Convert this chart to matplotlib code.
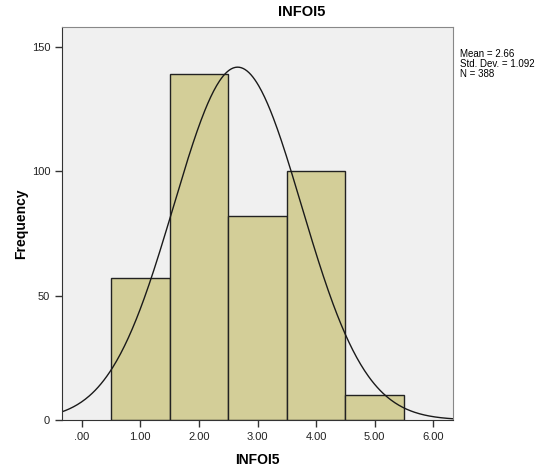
import matplotlib
matplotlib.use("Agg")
import matplotlib.pyplot as plt
import numpy as np

plt.rcParams['font.family'] = ['Liberation Sans', 'DejaVu Sans']

# histogram data
bin_centers = [1, 2, 3, 4, 5]
counts = [57, 139, 82, 100, 10]
mean = 2.66
std_dev = 1.092
n = 388
xticks = [0, 1, 2, 3, 4, 5, 6]
xtick_labels = [".00", "1.00", "2.00", "3.00", "4.00", "5.00", "6.00"]
yticks = [0, 50, 100, 150]

fig = plt.figure(figsize=(5.59, 4.70), dpi=100)
ax = fig.add_axes([0.1109, 0.1064, 0.699, 0.8368])
ax.set_facecolor('#f0f0f0')

ax.bar(bin_centers, counts, width=1.0, color='#d3ce98', edgecolor='#222222', linewidth=1.0)

# normal curve
x = np.linspace(-0.34, 6.33, 400)
y = n * 1.0 / (std_dev * np.sqrt(2 * np.pi)) * np.exp(-0.5 * ((x - mean) / std_dev) ** 2)
ax.plot(x, y, color='#1a1a1a', linewidth=1.0)

ax.set_xlim(-0.336, 6.33)
ax.set_ylim(0, 158)
ax.set_xticks(xticks)
ax.set_xticklabels(xtick_labels)
ax.set_yticks(yticks)
ax.tick_params(axis='both', labelsize=8, length=5, width=1, color='#333333', labelcolor='#222222')

for s in ['top', 'right']:
    ax.spines[s].set_color('#888888')
for s in ['left', 'bottom']:
    ax.spines[s].set_color('#333333')

ax.set_xlabel("INFOI5", fontsize=10, fontweight='bold', labelpad=8)
ax.set_ylabel("Frequency", fontsize=10, fontweight='bold')
ax.yaxis.set_label_coords(-0.087, 0.5)
fig.text(302 / 559, 1 - 12 / 470, "INFOI5", fontsize=10.5, fontweight='bold',
         ha='center', va='center')

fig.text(460 / 559, 1 - 49 / 470,
         "Mean = %.2f\nStd. Dev. = %.3f\nN = %d" % (mean, std_dev, n),
         fontsize=7, va='top', ha='left', linespacing=1.0)

fig.savefig("out.png", dpi=100)
